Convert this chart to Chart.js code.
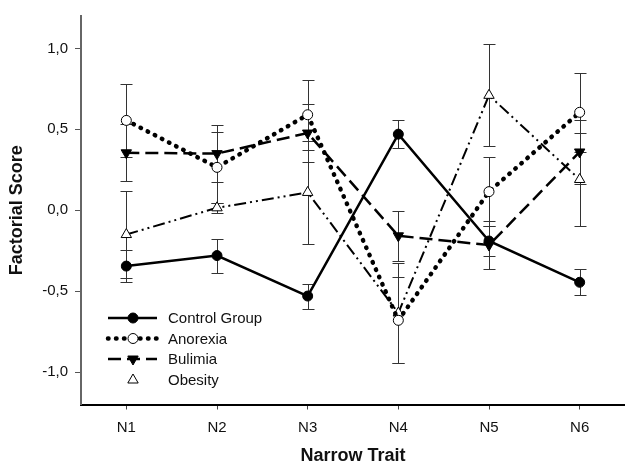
<!DOCTYPE html>
<html>
<head>
<meta charset="utf-8">
<script src="https://cdn.jsdelivr.net/npm/chart.js@4"></script>
<style>
  body { margin: 0; background: #fff; }
  #wrap { width: 625px; height: 465px; position: relative; }
</style>
</head>
<body>
<div id="wrap"><canvas id="myChart"></canvas></div>
<script>
let traits = ['N1', 'N2', 'N3', 'N4', 'N5', 'N6'];
let yTicks = [-1, -0.5, 0, 0.5, 1];

let control = [-0.345, -0.28, -0.53, 0.47, -0.19, -0.445];
let controlErr = [0.10, 0.105, 0.077, 0.085, 0.09, 0.08];
let anorexia = [0.555, 0.265, 0.59, -0.68, 0.115, 0.605];
let anorexiaErr = [0.225, 0.22, 0.215, 0.265, 0.215, 0.245];
let bulimia = [0.355, 0.35, 0.477, -0.158, -0.215, 0.36];
let bulimiaErr = [0.175, 0.175, 0.18, 0.155, 0.15, 0.2];
let obesity = [-0.15, 0.015, 0.11, -0.635, 0.71, 0.19];
let obesityErr = [0.27, 0.03, 0.32, 0.31, 0.315, 0.285];

Chart.defaults.font.family = '"Liberation Sans", Arial, sans-serif';
Chart.defaults.color = '#111';

// vertical error bars, drawn under the lines
let errorBars = {
    id: 'errorBars',
    beforeDatasetsDraw(chart) {
        let ctx = chart.ctx;
        let y = chart.scales.y;
        ctx.save();
        ctx.strokeStyle = '#333';
        ctx.lineWidth = 1;
        chart.data.datasets.forEach((ds, i) => {
            let meta = chart.getDatasetMeta(i);
            meta.data.forEach((pt, j) => {
                let v = ds.data[j], e = ds.errors[j];
                let top = Math.round(y.getPixelForValue(v + e)) + 0.5;
                let bot = Math.round(y.getPixelForValue(v - e)) + 0.5;
                let x = Math.round(pt.x) + 0.5;
                ctx.beginPath();
                ctx.moveTo(x, top); ctx.lineTo(x, bot);
                ctx.moveTo(x - 6, top); ctx.lineTo(x + 6, top);
                ctx.moveTo(x - 6, bot); ctx.lineTo(x + 6, bot);
                ctx.stroke();
            });
        });
        ctx.restore();
    }
};

// legend with line + marker samples
let lineLegend = {
    id: 'lineLegend',
    afterDraw(chart) {
        let ctx = chart.ctx;
        let rows = [318, 338.5, 359, 380];
        ctx.save();
        chart.data.datasets.forEach((ds, i) => {
            let ly = rows[i];
            if (ds.showLegendLine) {
                ctx.save();
                ctx.strokeStyle = ds.borderColor;
                ctx.lineWidth = ds.borderWidth;
                ctx.lineCap = ds.borderCapStyle || 'butt';
                ctx.setLineDash(ds.borderDash || []);
                ctx.beginPath();
                ctx.moveTo(108, ly); ctx.lineTo(157, ly);
                ctx.stroke();
                ctx.restore();
            }
            ctx.fillStyle = ds.pointBackgroundColor;
            ctx.strokeStyle = '#000';
            ctx.lineWidth = ds.pointBorderWidth;
            let opts = { pointStyle: ds.pointStyle, radius: ds.pointRadius, rotation: ds.pointRotation || 0, borderWidth: ds.pointBorderWidth };
            Chart.helpers.drawPoint(ctx, opts, 133, ly);
            ctx.fillStyle = '#111';
            ctx.font = '15px "Liberation Sans", Arial, sans-serif';
            ctx.textBaseline = 'middle';
            ctx.fillText(ds.label, 168, ly + 1);
        });
        ctx.restore();
    }
};

let myChart = document.getElementById('myChart').getContext('2d');

let chart = new Chart(myChart, {
    type: 'line',
    data: {
        labels: traits,
        datasets: [
            {
                label: 'Control Group', data: control, errors: controlErr,
                borderColor: '#000', borderWidth: 2.5, showLegendLine: true,
                pointStyle: 'circle', pointRadius: 5, pointBackgroundColor: '#000',
                pointBorderColor: '#000', pointBorderWidth: 1
            },
            {
                label: 'Anorexia', data: anorexia, errors: anorexiaErr,
                borderColor: '#000', borderWidth: 4.5, borderDash: [0.5, 7.5], borderCapStyle: 'round',
                showLegendLine: true,
                pointStyle: 'circle', pointRadius: 5, pointBackgroundColor: '#fff',
                pointBorderColor: '#000', pointBorderWidth: 1
            },
            {
                label: 'Bulimia', data: bulimia, errors: bulimiaErr,
                borderColor: '#000', borderWidth: 2.5, borderDash: [13, 6], showLegendLine: true,
                pointStyle: 'triangle', pointRotation: 180, pointRadius: 6, pointBackgroundColor: '#000',
                pointBorderColor: '#000', pointBorderWidth: 1
            },
            {
                label: 'Obesity', data: obesity, errors: obesityErr,
                borderColor: '#000', borderWidth: 2, borderDash: [12, 4, 2, 4, 2, 4], showLegendLine: false,
                pointStyle: 'triangle', pointRadius: 6, pointBackgroundColor: '#fff',
                pointBorderColor: '#000', pointBorderWidth: 1
            }
        ]
    },
    options: {
        responsive: true,
        maintainAspectRatio: false,
        animation: false,
        layout: { autoPadding: false, padding: { top: 10, right: 0, bottom: 0, left: 0 } },
        elements: { line: { tension: 0 } },
        plugins: {
            legend: { display: false },
            tooltip: { enabled: false }
        },
        scales: {
            x: {
                type: 'category',
                offset: true,
                grid: { offset: false, drawOnChartArea: false, drawTicks: true, tickLength: 5, color: '#444' },
                border: { display: true, color: '#000', width: 2 },
                ticks: { font: { size: 15 }, padding: 9, color: '#111', maxRotation: 0 },
                title: { display: true, text: 'Narrow Trait', font: { size: 18, weight: 'bold', lineHeight: 1.05 }, padding: { top: 0, bottom: 0 }, color: '#111' },
                afterFit(scale) {
                    scale.height = 60.5;
                    scale.paddingLeft = 0;
                    scale.paddingRight = 0;
                }
            },
            y: {
                min: -1.2,
                max: 1.2,
                afterBuildTicks(scale) { scale.ticks = yTicks.map(v => ({ value: v })); },
                grid: { drawOnChartArea: false, drawTicks: true, tickLength: 6, color: '#555' },
                border: { display: true, color: '#666', width: 2 },
                ticks: {
                    font: { size: 15 }, padding: 7, color: '#111',
                    callback: v => v.toFixed(1).replace('.', ',')
                },
                title: { display: true, text: 'Factorial Score', font: { size: 18, weight: 'bold', lineHeight: 1.2 }, padding: { top: 6, bottom: 0 }, color: '#111' },
                afterFit(scale) { scale.width = 81; }
            }
        }
    },
    plugins: [errorBars, lineLegend]
});
</script>
</body>
</html>
